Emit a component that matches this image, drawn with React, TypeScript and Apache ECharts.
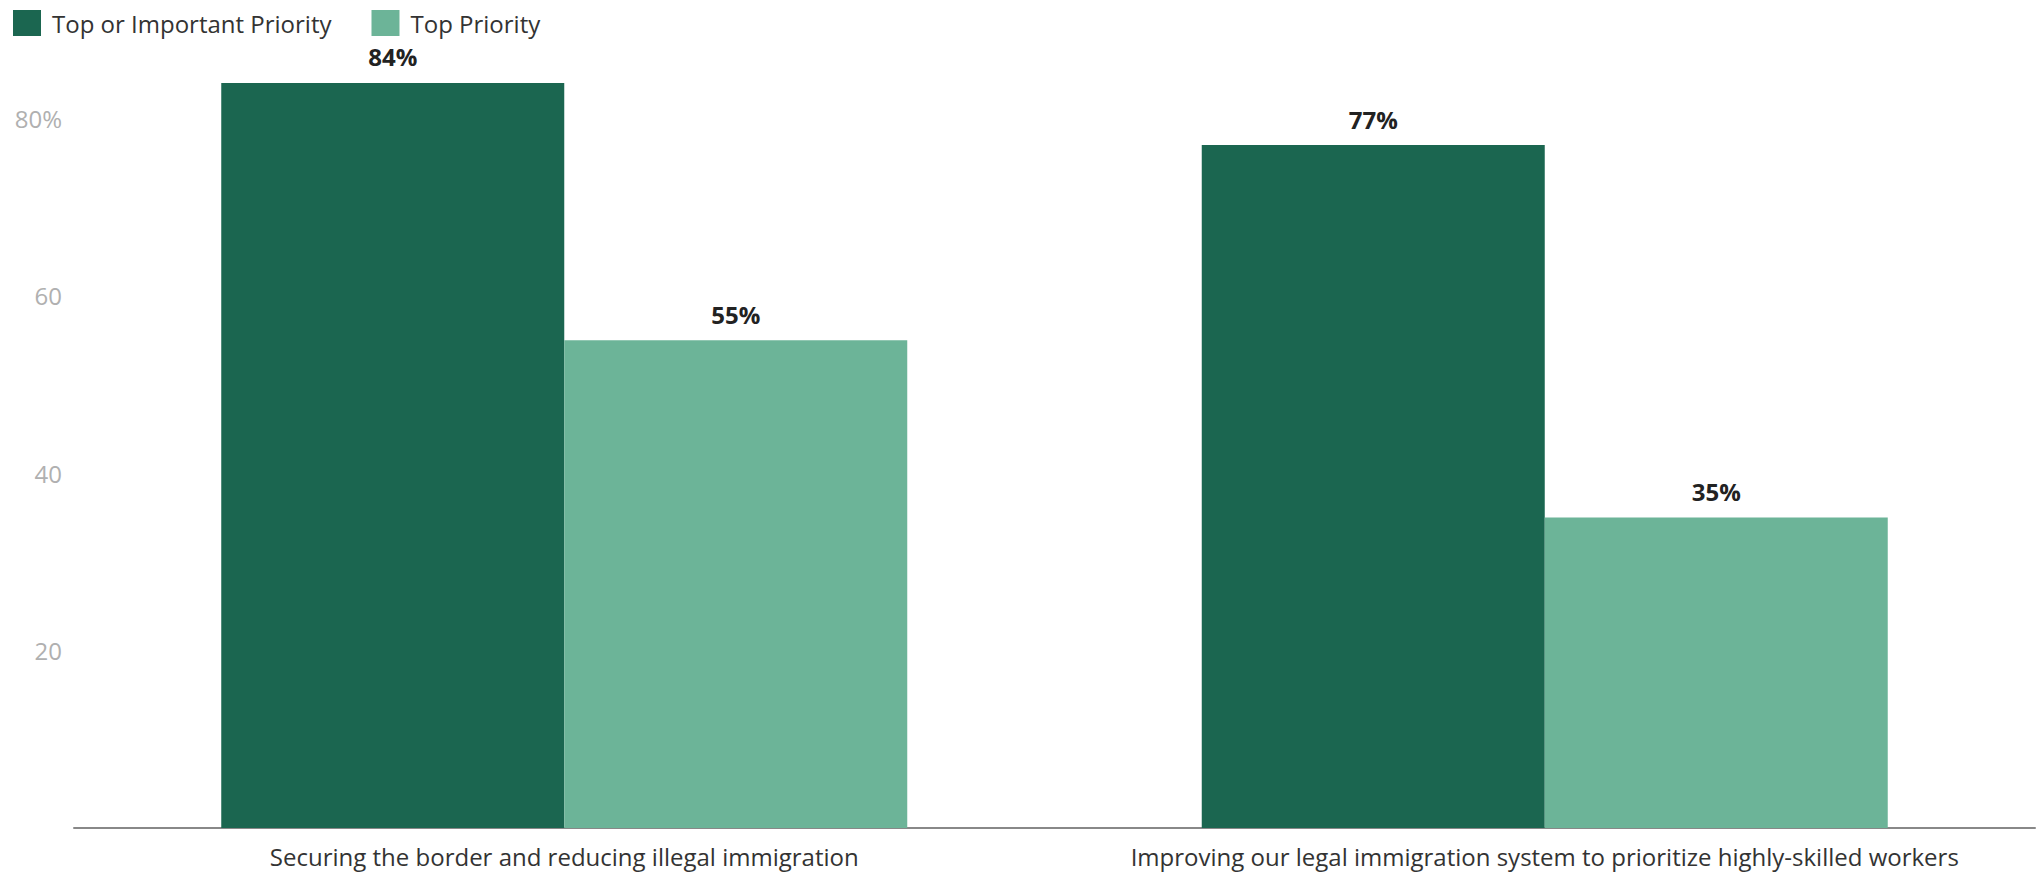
import React, { useEffect, useRef } from "react";
import * as echarts from "echarts";

const categories = [
  "Securing the border and reducing illegal immigration",
  "Improving our legal immigration system to prioritize highly-skilled workers",
];
const seriesNames = ["Top or Important Priority", "Top Priority"];
const topOrImportant = [84, 77];
const topPriority = [55, 35];
const yTicks = [20, 40, 60, 80];

const FONT = "'Open Sans', 'Noto Sans', sans-serif";

export default function App() {
  const ref = useRef<HTMLDivElement>(null);
  useEffect(() => {
    if (!ref.current) return;
    const chart = echarts.init(ref.current, null, { renderer: "svg" });
    const labelStyle = {
      show: true,
      position: "top",
      distance: 14,
      formatter: "{c}%",
      fontFamily: FONT,
      fontWeight: "bold",
      fontSize: 24,
      color: "#222",
    };
    chart.setOption({
      animation: false,
      backgroundColor: "#ffffff",
      textStyle: { fontFamily: FONT },
      legend: {
        left: 8,
        top: 5,
        itemWidth: 28,
        itemHeight: 26,
        itemGap: 40,
        icon: "rect",
        textStyle: { fontFamily: FONT, fontSize: 24, color: "#333", padding: [0, 0, 0, 6] },
        data: seriesNames,
      },
      grid: { left: 74, right: 1, top: 29.7, bottom: 46 },
      xAxis: {
        type: "category",
        data: categories,
        axisLine: { show: true, lineStyle: { color: "#888", width: 2 } },
        axisTick: { show: false },
        axisLabel: { fontFamily: FONT, fontSize: 24, color: "#333", margin: 16, interval: 0 },
      },
      yAxis: {
        type: "value",
        min: 0,
        max: 90,
        interval: 20,
        axisLine: { show: false },
        axisTick: { show: false },
        splitLine: { show: false },
        axisLabel: {
          fontFamily: FONT,
          fontSize: 24,
          color: "#b0b0b0",
          margin: 12,
          showMaxLabel: false,
          formatter: (v: number) => {
            if (!yTicks.includes(v)) return "";
            return v === 80 ? "80%" : String(v);
          },
        },
      },
      series: [
        {
          name: seriesNames[0],
          type: "bar",
          data: topOrImportant,
          barWidth: 343,
          barGap: "0%",
          itemStyle: { color: "#1b6650" },
          label: labelStyle,
        },
        {
          name: seriesNames[1],
          type: "bar",
          data: topPriority,
          barWidth: 343,
          barGap: "0%",
          itemStyle: { color: "#6cb498" },
          label: labelStyle,
        },
      ],
    });
    return () => chart.dispose();
  }, []);
  return (
    <div
      ref={ref}
      style={{ position: "absolute", left: 0, top: 0, width: 2036, height: 874, background: "#fff" }}
    />
  );
}
